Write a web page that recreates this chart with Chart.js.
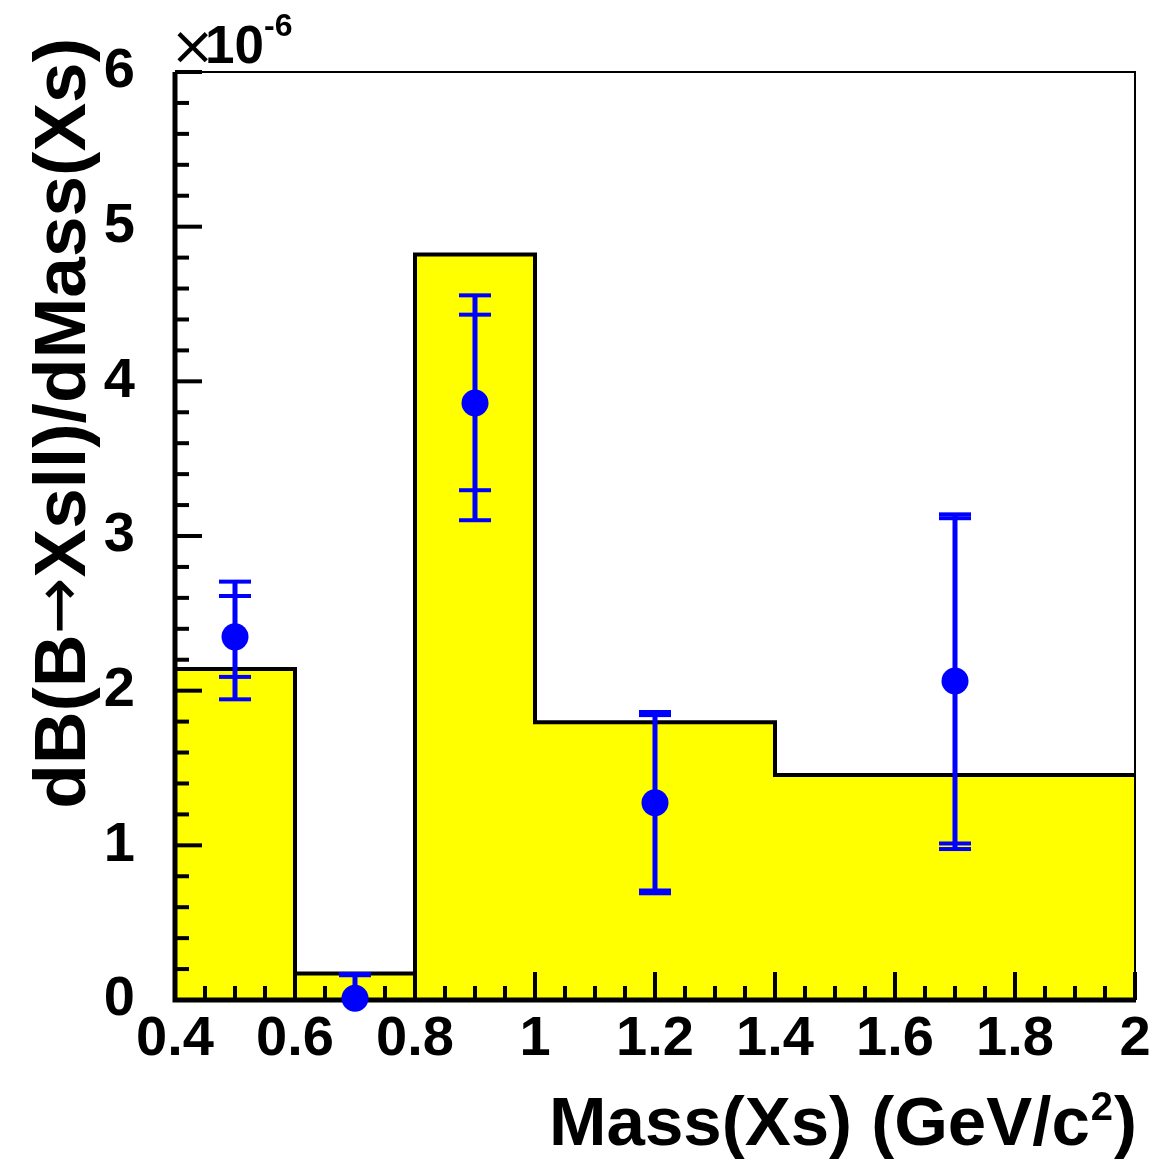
<!DOCTYPE html>
<html lang="en">
<head>
<meta charset="UTF-8">
<title>dB/dMass(Xs)</title>
<style>
  body{margin:0;background:#fff}
  canvas{display:block}
</style>
</head>
<body>
<canvas id="c" width="1150" height="1162"></canvas>
<script src="https://cdn.jsdelivr.net/npm/chart.js"></script>
<script>
// histogram bins (edges) and contents, in units of 1e-6
const binEdges = [0.4, 0.6, 0.8, 1.0, 1.4, 2.0]
const binValues = [2.14, 0.172, 4.82, 1.795, 1.454]

// measured points with inner (stat) and outer (total) error bars
const pointX = [0.5, 0.7, 0.9, 1.2, 1.7]
const pointY = [2.348, 0.011, 3.860, 1.275, 2.063]
const statHi = [2.612, 0.160, 4.431, 1.842, 3.115]
const statLo = [2.089, -0.15, 3.296, 0.708, 1.012]
const totHi  = [2.705, 0.168, 4.556, 1.862, 3.140]
const totLo  = [1.944, -0.20, 3.102, 0.690, 0.976]

const xTickLabels = ['0.4','0.6','0.8','1','1.2','1.4','1.6','1.8','2']
const yTickLabels = ['0','1','2','3','4','5','6']

const FONT = '"Liberation Sans", Arial, Helvetica, sans-serif'
const SYMFONT = '"DejaVu Sans", sans-serif'

// step outline: repeat the last bin content at the upper edge
const histData = binEdges.map((e, i) => ({x: e, y: binValues[Math.min(i, binValues.length - 1)]}))
const pointData = pointX.map((x, i) => ({x: x, y: pointY[i]}))

// frame, inward ticks and error bars, drawn under the markers
const rootStyle = {
  id: 'rootStyle',
  beforeDatasetDraw(chart, args) {
    if (args.index !== 0) return
    const c = chart.ctx, a = chart.chartArea
    const xs = chart.scales.x, ys = chart.scales.y
    c.save()
    c.strokeStyle = '#000'
    c.lineCap = 'butt'
    // y ticks
    c.lineWidth = 4
    for (let v = 0; v <= 6.0001; v += 0.2) {
      const y = ys.getPixelForValue(v)
      const major = Math.abs(v - Math.round(v)) < 1e-6
      c.beginPath(); c.moveTo(a.left, y); c.lineTo(a.left + (major ? 27 : 14), y); c.stroke()
    }
    // x ticks
    for (let v = 0.4; v <= 2.0001; v += 0.05) {
      const x = xs.getPixelForValue(v)
      const r = (v - 0.4) / 0.2
      const major = Math.abs(r - Math.round(r)) < 1e-6
      c.beginPath(); c.moveTo(x, a.bottom); c.lineTo(x, a.bottom - (major ? 28 : 14)); c.stroke()
    }
    // frame
    c.lineWidth = 2
    c.beginPath(); c.moveTo(a.left, a.top); c.lineTo(a.right, a.top); c.lineTo(a.right, a.bottom); c.stroke()
    c.lineWidth = 5
    c.beginPath(); c.moveTo(a.left, a.top); c.lineTo(a.left, a.bottom); c.lineTo(a.right + 1, a.bottom); c.stroke()

    // error bars
    c.beginPath(); c.rect(a.left, a.top, a.right - a.left, a.bottom - a.top); c.clip()
    c.strokeStyle = '#0000ff'
    pointX.forEach((px, i) => {
      const x = xs.getPixelForValue(px)
      c.lineWidth = 5
      c.beginPath(); c.moveTo(x, ys.getPixelForValue(totHi[i])); c.lineTo(x, ys.getPixelForValue(totLo[i])); c.stroke()
      c.lineWidth = 4
      ;[statHi[i], statLo[i], totHi[i], totLo[i]].forEach(v => {
        const y = ys.getPixelForValue(v)
        c.beginPath(); c.moveTo(x - 16, y); c.lineTo(x + 16, y); c.stroke()
      })
    })
    c.restore()
  },
  afterDraw(chart) {
    const c = chart.ctx, a = chart.chartArea
    c.save()
    c.fillStyle = '#000'
    c.textBaseline = 'alphabetic'
    // x title with superscript
    const big = 'bold 69px ' + FONT, sup = 'bold 40px ' + FONT
    c.font = big
    const tail = ')', head = 'Mass(Xs) (GeV/c'
    let xr = a.right + 2
    const wt = c.measureText(tail).width
    c.fillText(tail, xr - wt, 1145)
    xr -= wt
    c.font = sup
    const ws = c.measureText('2').width
    c.fillText('2', xr - ws - 1, 1120)
    xr -= ws + 2
    c.font = big
    c.textAlign = 'right'
    c.fillText(head, xr, 1145)
    // y title, rotated; the arrow comes from a symbol font
    c.save()
    c.translate(85, 38)
    c.rotate(-Math.PI / 2)
    c.textAlign = 'right'
    const ybig = 'bold 73px ' + FONT
    const parts = [['dB(B', ybig], ['\u2192', '68px ' + SYMFONT], ['Xsll)/dMass(Xs)', ybig]]
    let pos = 0
    for (let k = parts.length - 1; k >= 0; k--) {
      c.font = parts[k][1]
      const dy = k === 1 ? -4 : 0
      c.fillText(parts[k][0], pos, dy)
      pos -= c.measureText(parts[k][0]).width
    }
    c.restore()
    // exponent label
    c.textAlign = 'left'
    c.font = '54px ' + SYMFONT
    c.fillText('\u00d7', 170, 64)
    c.font = 'bold 53px ' + FONT
    c.fillText('10', 205, 63)
    c.font = 'bold 32px ' + FONT
    c.fillText('-6', 264, 36)
    c.restore()
  }
}

new Chart(document.getElementById('c'), {
  type: 'scatter',
  data: {
    datasets: [
      {
        label: 'data',
        data: pointData,
        backgroundColor: '#0000ff',
        borderColor: '#0000ff',
        pointRadius: 13.5,
        pointBorderWidth: 0,
        clip: false
      },
      {
        label: 'MC',
        data: histData,
        showLine: true,
        stepped: 'before',
        fill: 'origin',
        backgroundColor: '#ffff00',
        borderColor: '#000',
        borderWidth: 4,
        pointRadius: 0
      }
    ]
  },
  options: {
    responsive: false,
    animation: false,
    events: [],
    layout: {padding: {left: 0, top: 72, right: 15, bottom: 0}},
    plugins: {legend: {display: false}, tooltip: {enabled: false}},
    scales: {
      x: {
        type: 'linear', min: 0.4, max: 2.0,
        grid: {display: false, drawTicks: false},
        border: {display: false},
        ticks: {
          stepSize: 0.2, autoSkip: false, maxRotation: 0, padding: 6,
          color: '#000', font: {family: FONT, size: 56, weight: 'bold'},
          callback: v => xTickLabels[Math.round((v - 0.4) / 0.2)]
        },
        afterFit: s => { s.height = 162; s.paddingLeft = 0; s.paddingRight = 0 }
      },
      y: {
        type: 'linear', min: 0, max: 6,
        grid: {display: false, drawTicks: false},
        border: {display: false},
        ticks: {
          stepSize: 1, padding: 40,
          color: '#000', font: {family: FONT, size: 56, weight: 'bold'},
          callback: v => yTickLabels[Math.round(v)]
        },
        afterFit: s => { s.width = 175; s.paddingTop = 0; s.paddingBottom = 0 }
      }
    }
  },
  plugins: [rootStyle]
})
</script>
</body>
</html>
